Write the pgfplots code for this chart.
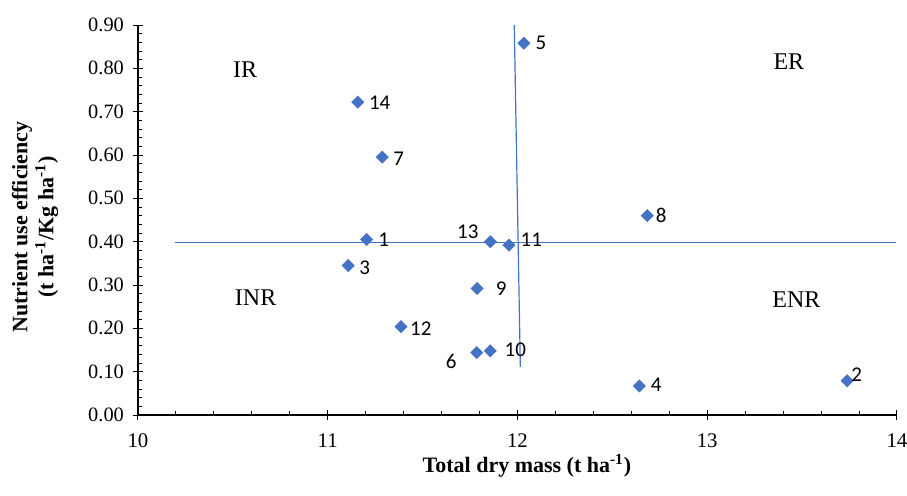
\documentclass[border=0pt]{standalone}
\usepackage{fontspec}
\setmainfont{Liberation Serif}
\newfontfamily\calibri{Carlito}
\usepackage{pgfplots}
\usepackage{pgfplotstable}
\pgfplotsset{compat=1.18}
\definecolor{ptblue}{HTML}{4472C4}

% x = total dry mass, y = nutrient use efficiency, dx/dy = label offset (pt)
\pgfplotstableread{
x      y     lab dx    dy
11.205 0.405 1   8.5   0
13.737 0.079 2   4.8   2.8
11.108 0.345 3   8.2   -1
12.642 0.067 4   8.5   0.5
12.034 0.858 5   8.5   0
11.785 0.144 6   -12.8 -4.5
11.287 0.595 7   8.2   -0.8
12.684 0.460 8   7     0
11.787 0.292 9   12    0
11.857 0.148 10  12.5  0.5
11.955 0.392 11  11.2  2.5
11.386 0.204 12  9.9   -0.8
11.857 0.400 13  -11.3 5
11.158 0.722 14  11    -0.5
}\nuedata

\begin{document}
\begin{tikzpicture}
\begin{axis}[
    scale only axis,
    width=379.5pt, height=195pt,
    xmin=10, xmax=14, ymin=0, ymax=0.9,
    axis lines*=left,
    axis line style={black, line width=0.6pt},
    xtick={10,11,12,13,14},
    ytick={0,0.1,0.2,0.3,0.4,0.5,0.6,0.7,0.8,0.9},
    minor x tick num=4, minor y tick num=4,
    tick align=center,
    major tick length=5pt, minor tick length=2pt,
    tick style={black, line width=0.5pt},
    every minor x tick/.append style={yshift=1pt},
    every minor y tick/.append style={xshift=1pt},
    xticklabel={\pgfmathprintnumber[assume math mode=true]{\tick}},
    yticklabel={\pgfmathprintnumber[fixed, fixed zerofill, precision=2, assume math mode=true]{\tick}},
    xticklabel style={font=\rmfamily\fontsize{10.4}{12}\selectfont, yshift=-3.5pt},
    yticklabel style={font=\rmfamily\fontsize{10.2}{12}\selectfont, xshift=-1pt},
    xlabel={\textbf{Total dry mass (t ha\textsuperscript{-1})}},
    ylabel={\textbf{Nutrient use efficiency}\\\textbf{(t ha\textsuperscript{-1}/Kg ha\textsuperscript{-1})}},
    label style={font=\fontsize{11}{13}\selectfont},
    xlabel style={at={(axis description cs:0.5125,-0.13)}, anchor=center},
    ylabel style={at={(axis description cs:-0.1357,0.482)}, anchor=center, align=center},
    clip=false,
]
\addplot[ptblue, line width=0.6pt] coordinates {(10.195,0.3977) (13.995,0.3977)};
\addplot[ptblue, line width=0.6pt] coordinates {(11.983,0.9) (12.015,0.111)};
\addplot[
    only marks,
    mark=square*,
    mark size=2.1pt,
    mark options={rotate=45, fill=ptblue, draw=ptblue},
    point meta=explicit symbolic,
    visualization depends on={\thisrow{dx} \as \ldx},
    visualization depends on={\thisrow{dy} \as \ldy},
    nodes near coords,
    every node near coord/.style={anchor=center, xshift=\ldx pt, yshift=\ldy pt,
        font=\calibri\fontsize{10.5}{12}\selectfont, text=black, inner sep=0pt},
] table[x=x, y=y, meta=lab] {\nuedata};
\node[font=\fontsize{12}{14}\selectfont] at (axis cs:10.564,0.798) {IR};
\node[font=\fontsize{12}{14}\selectfont] at (axis cs:10.62,0.27) {INR};
\node[font=\fontsize{12}{14}\selectfont] at (axis cs:13.43,0.815) {ER};
\node[font=\fontsize{12}{14}\selectfont] at (axis cs:13.47,0.267) {ENR};
\end{axis}
\pgfresetboundingbox
\path (-69pt,-40pt) rectangle (384.5pt,207.5pt);
\end{tikzpicture}
\end{document}
